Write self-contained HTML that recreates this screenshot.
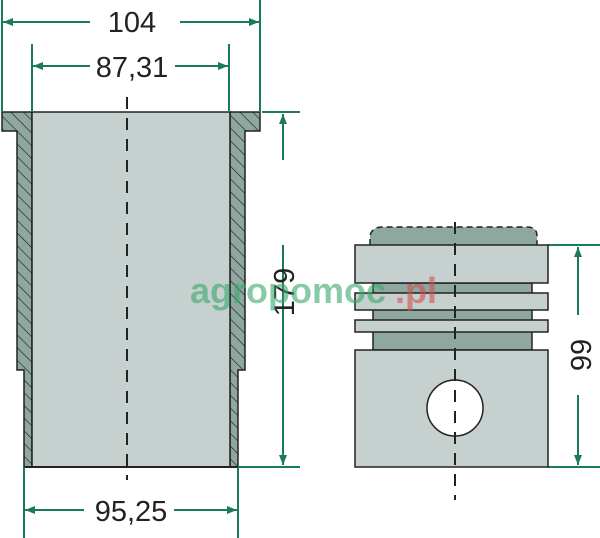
<!DOCTYPE html>
<html><head><style>body{margin:0;background:#fff}svg{display:block}</style></head><body>
<svg width="600" height="538" viewBox="0 0 600 538" xmlns="http://www.w3.org/2000/svg" font-family="Liberation Sans, sans-serif">
<defs>
<pattern id="h" width="9" height="9" patternUnits="userSpaceOnUse" patternTransform="rotate(-45)">
<rect width="9" height="9" fill="#8ea79f"/><line x1="0" y1="0" x2="0" y2="9" stroke="#222" stroke-width="1.3"/>
</pattern>
<marker id="a" markerWidth="10" markerHeight="8" refX="10" refY="4" orient="auto" markerUnits="userSpaceOnUse"><path d="M0,0L10,4L0,8z" fill="#1a7a5e"/></marker>
</defs>
<path d="M2,112 H32 V467 H24 V370 H17 V131 H2 Z" fill="url(#h)" stroke="#222" stroke-width="1.5"/>
<path d="M260,112 H230 V467 H238 V370 H245 V131 H260 Z" fill="url(#h)" stroke="#222" stroke-width="1.5"/>
<rect x="32" y="112" width="198" height="355" fill="#c6d1cf" stroke="#222" stroke-width="1.5"/>
<line x1="24" y1="467" x2="238" y2="467" stroke="#222" stroke-width="2"/>
<line x1="127" y1="97" x2="127" y2="480" stroke="#222" stroke-width="2" stroke-dasharray="12,9"/>
<g stroke="#1a7a5e" stroke-width="2" fill="none">
<line x1="2" y1="0" x2="2" y2="112"/><line x1="260" y1="0" x2="260" y2="112"/>
<line x1="32" y1="44" x2="32" y2="112"/><line x1="229" y1="44" x2="229" y2="112"/>
<line x1="90" y1="22" x2="3" y2="22" marker-end="url(#a)"/><line x1="180" y1="22" x2="259" y2="22" marker-end="url(#a)"/>
<line x1="90" y1="66" x2="33" y2="66" marker-end="url(#a)"/><line x1="175" y1="66" x2="228" y2="66" marker-end="url(#a)"/>
<line x1="24" y1="467" x2="24" y2="538"/><line x1="238" y1="467" x2="238" y2="538"/>
<line x1="84" y1="510" x2="25" y2="510" marker-end="url(#a)"/><line x1="174" y1="510" x2="237" y2="510" marker-end="url(#a)"/>
<line x1="262" y1="112" x2="300" y2="112"/><line x1="238" y1="467" x2="300" y2="467"/>
<line x1="283" y1="160" x2="283" y2="114" marker-end="url(#a)"/><line x1="283" y1="245" x2="283" y2="465" marker-end="url(#a)"/>
<line x1="548" y1="245" x2="600" y2="245"/><line x1="548" y1="467" x2="600" y2="467"/>
<line x1="578" y1="315" x2="578" y2="247" marker-end="url(#a)"/><line x1="578" y1="395" x2="578" y2="465" marker-end="url(#a)"/>
</g>
<rect x="268" y="160" width="30" height="85" fill="#fff"/>
<g fill="#222" font-size="29" text-anchor="middle">
<text x="132" y="32">104</text>
<text x="132" y="77">87,31</text>
<text x="131" y="521">95,25</text>
<text transform="translate(294,292) rotate(-90)">179</text>
<text transform="translate(591,355) rotate(-90)">99</text>
</g>
<path d="M370,245 V236 Q372,227 382,227 H527 Q537,227 537,236 V245 Z" fill="#8ea79f"/>
<path d="M370,245 V236 Q372,227 382,227 H527 Q537,227 537,236 V245" fill="none" stroke="#222" stroke-width="1.5" stroke-dasharray="6,4"/>
<rect x="373" y="283" width="159" height="67" fill="#8ea79f" stroke="#222" stroke-width="1.5"/>
<g fill="#c6d1cf" stroke="#222" stroke-width="1.5">
<rect x="355" y="245" width="193" height="38"/>
<rect x="355" y="293" width="193" height="17"/>
<rect x="355" y="320" width="193" height="12"/>
<rect x="355" y="350" width="193" height="117"/>
<circle cx="455" cy="408" r="28" fill="#fff"/>
</g>
<line x1="455" y1="222" x2="455" y2="500" stroke="#222" stroke-width="2" stroke-dasharray="12,9"/>
<text x="190" y="303" font-size="36" font-weight="bold" fill="#3aa86a" opacity="0.6">agro</text>
<text x="268" y="303" font-size="36" font-weight="bold" fill="#3aa86a" opacity="0.6">pomoc</text>
<text x="395" y="303" font-size="36" font-weight="bold" fill="#d05050" opacity="0.6">.pl</text>
</svg>
</body></html>
